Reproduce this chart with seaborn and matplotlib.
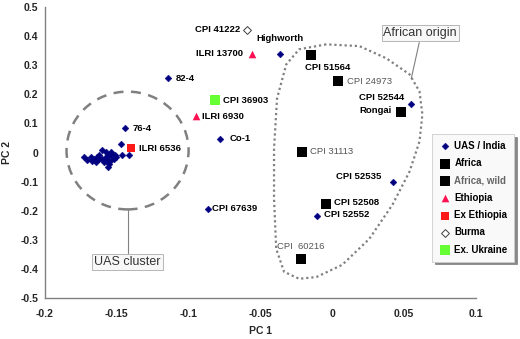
import numpy as np
import pandas as pd
import matplotlib
matplotlib.use("Agg")
import matplotlib.pyplot as plt
import seaborn as sns
from matplotlib.patches import Ellipse

# PCA scores
uas_x = [-0.1725, -0.1683, -0.1662, -0.1641, -0.1627, -0.1606, -0.1578, -0.1557, -0.1536,
         -0.1522, -0.1571, -0.1592, -0.1557, -0.1564, -0.1543, -0.1606, -0.1578, -0.1543,
         -0.1627, -0.1676, -0.1648, -0.1704, -0.1515, -0.1508, -0.1473, -0.1466, -0.1418,
         -0.1446, -0.1145, -0.078, -0.0866, -0.036, 0.055, 0.042, -0.0105]
uas_y = [-0.017, -0.017, -0.021, -0.014, -0.021, -0.021, -0.014, -0.007, -0.007,
         -0.021, -0.024, -0.031, -0.038, -0.048, -0.024, 0.010, 0.003, 0.003,
         -0.007, -0.028, -0.031, -0.024, -0.007, -0.017, 0.028, -0.007, -0.007,
         0.083, 0.255, 0.048, -0.193, 0.34, 0.166, -0.10, -0.217]

africa_x = [-0.0147, 0.048, -0.004]
africa_y = [0.334, 0.138, -0.176]

wild_x = [0.004, -0.021, -0.022]
wild_y = [0.245, 0.003, -0.365]

ethiopia_x = [-0.056, -0.095]
ethiopia_y = [0.34, 0.124]

ex_ethiopia_x = [-0.140]
ex_ethiopia_y = [0.014]

burma_x = [-0.0594]
burma_y = [0.42]

ukraine_x = [-0.0817]
ukraine_y = [0.18]

# labelled accessions: name, x, y, text offset (px), ha, style
labels = [
    ("CPI 41222", -0.0594, 0.42, (-7, 1), "right", "b"),
    ("Highworth", -0.036, 0.34, (0, 15), "center", "b"),
    ("ILRI 13700", -0.056, 0.34, (-9, 0), "right", "b"),
    ("82-4", -0.1145, 0.255, (8, 0), "left", "b"),
    ("CPI 36903", -0.0817, 0.18, (8, 0), "left", "b"),
    ("ILRI 6930", -0.095, 0.124, (6, 0), "left", "b"),
    ("Co-1", -0.078, 0.048, (9, 0), "left", "b"),
    ("76-4", -0.1446, 0.083, (8, 0), "left", "b"),
    ("ILRI 6536", -0.140, 0.014, (8, 0), "left", "b"),
    ("CPI 51564", -0.0147, 0.334, (-6, -12), "left", "b"),
    ("CPI 24973", 0.004, 0.245, (9, 0), "left", "g"),
    ("CPI 52544", 0.055, 0.166, (-7, 7), "right", "b"),
    ("Rongai", 0.048, 0.138, (-9, 2), "right", "b"),
    ("CPI 31113", -0.021, 0.003, (8, 0), "left", "g"),
    ("CPI 52535", 0.042, -0.10, (-11, 5), "right", "b"),
    ("CPI 52508", -0.004, -0.176, (8, 1), "left", "b"),
    ("CPI 52552", -0.0105, -0.217, (7, 1), "left", "b"),
    ("CPI  60216", -0.022, -0.365, (0, 12), "center", "g"),
    ("CPI 67639", -0.0866, -0.193, (4, 0), "left", "b"),
]

# African origin outline
hull_x = [-0.0042, -0.023, -0.032, -0.0384, -0.0405, -0.0405, -0.039, -0.0335, -0.023,
          -0.011, 0.007, 0.0258, 0.042, 0.0538, 0.0608, 0.0628, 0.0608, 0.0538, 0.0377,
          0.0189, -0.0042]
hull_y = [0.372, 0.355, 0.303, 0.186, 0.014, -0.159, -0.331, -0.41, -0.434,
          -0.428, -0.386, -0.297, -0.179, -0.066, 0.038, 0.131, 0.21, 0.269, 0.324,
          0.366, 0.372]

sns.set_style("white")
plt.rcParams["font.family"] = ["Liberation Sans", "DejaVu Sans"]

fig = plt.figure(figsize=(5.2, 3.39), dpi=100)
ax = fig.add_axes([0.0865, 0.121, 0.8285, 0.858])

groups = [
    ("UAS / India", uas_x, uas_y, dict(marker="D", s=12, color="#000080", edgecolor="#000080", linewidth=0.3)),
    ("Africa", africa_x, africa_y, dict(marker="s", s=45, color="black", edgecolor="black", linewidth=0)),
    ("Africa, wild", wild_x, wild_y, dict(marker="s", s=45, color="black", edgecolor="black", linewidth=0)),
    ("Ethiopia", ethiopia_x, ethiopia_y, dict(marker="^", s=30, color="#FF1050", edgecolor="#FF1050", linewidth=0)),
    ("Ex Ethiopia", ex_ethiopia_x, ex_ethiopia_y, dict(marker="s", s=28, color="#FF1A1A", edgecolor="#FF1A1A", linewidth=0)),
    ("Burma", burma_x, burma_y, dict(marker="D", s=16, facecolor="white", edgecolor="#404040", linewidth=0.7)),
    ("Ex. Ukraine", ukraine_x, ukraine_y, dict(marker="s", s=55, color="#66FF33", edgecolor="#66FF33", linewidth=0)),
]
for name, xs, ys, kw in groups:
    sns.scatterplot(x=xs, y=ys, ax=ax, label=name, zorder=3, **kw)

for name, x, y, off, ha, st in labels:
    ax.annotate(name, (x, y), xytext=off, textcoords="offset pixels", ha=ha, va="center",
                fontsize=6.8, fontweight="bold" if st == "b" else "normal",
                color="black" if st == "b" else "#555555", zorder=4)

# UAS cluster ring and callout
ax.add_patch(Ellipse((-0.1425, 0.007), 0.085, 0.405, fill=False, edgecolor="#808080",
                     linestyle=(0, (4, 3)), linewidth=1.8, zorder=2))
ax.plot([-0.1425, -0.1425], [-0.197, -0.345], color="#808080", lw=0.8, zorder=2)
ax.text(-0.1425, -0.376, "UAS cluster", ha="center", va="center", fontsize=9, color="#333333",
        bbox=dict(boxstyle="square,pad=0.15", facecolor="#f8f8f8", edgecolor="#aaaaaa", linewidth=0.6))

# African origin outline and callout
ax.plot(hull_x, hull_y, color="#808080", linestyle=(0, (1, 1.3)), linewidth=1.6, zorder=2)
ax.plot([0.0606, 0.0551], [0.378, 0.255], color="#808080", lw=0.8, zorder=2)
ax.text(0.0613, 0.41, "African origin", ha="center", va="center", fontsize=9, color="#333333",
        bbox=dict(boxstyle="square,pad=0.15", facecolor="#f8f8f8", edgecolor="#aaaaaa", linewidth=0.6))

ax.set_xlim(-0.2, 0.1)
ax.set_ylim(-0.5, 0.5)
ax.set_xticks(np.arange(-0.2, 0.1001, 0.05))
ax.set_xticklabels(["-0.2", "-0.15", "-0.1", "-0.05", "0", "0.05", "0.1"])
ax.set_yticks(np.arange(-0.5, 0.5001, 0.1))
ax.set_yticklabels(["-0.5", "-0.4", "-0.3", "-0.2", "-0.1", "0", "0.1", "0.2", "0.3", "0.4", "0.5"])
for lab in ax.get_xticklabels() + ax.get_yticklabels():
    lab.set_fontweight("bold")
    lab.set_fontsize(7.5)
ax.tick_params(axis="both", direction="out", length=3, width=0.8, color="#808080", pad=2)
ax.tick_params(axis="x", pad=5)
sns.despine(ax=ax)
for sp in ["left", "bottom"]:
    ax.spines[sp].set_color("#808080")
    ax.spines[sp].set_linewidth(1.0)
ax.set_xlabel("PC 1", fontsize=7.5, fontweight="bold", labelpad=5)
ax.set_ylabel("PC 2", fontsize=7.5, fontweight="bold", labelpad=6)

leg = ax.legend(loc="upper left", bbox_to_anchor=(0.887, 0.58), frameon=True, fontsize=7,
                handletextpad=0.4, labelspacing=0.75, borderpad=0.7, handlelength=1.2,
                fancybox=False, edgecolor="#cccccc", facecolor="#f9f9f9", framealpha=1,
                shadow={"color": "#888888", "alpha": 1, "ox": 2, "oy": -2},
                prop={"weight": "bold", "size": 7})
leg.get_frame().set_linewidth(0.6)
for t in leg.get_texts():
    if t.get_text() == "Africa, wild":
        t.set_color("#666666")
    else:
        t.set_color("black")
leg.set_zorder(5)

fig.savefig("out.png", dpi=100)
